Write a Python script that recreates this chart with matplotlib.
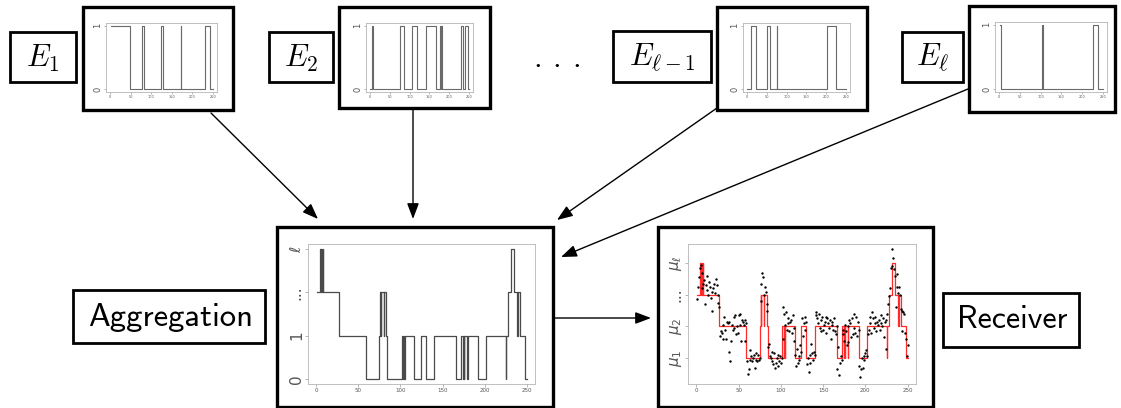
import os
import numpy as np
import matplotlib
import matplotlib.pyplot as plt
from matplotlib.patches import Rectangle
from matplotlib.font_manager import FontProperties

plt.rcParams['mathtext.fontset'] = 'cm'
sans = FontProperties(fname=os.path.join(matplotlib.get_data_path(), 'fonts', 'ttf', 'cmss10.ttf'))

# --- individual expert signals (change times, levels; steps-post) ---
e1_t = [1, 49, 76.5, 81.5, 124, 129, 172, 173.5, 230, 242, 250]
e1_v = [1, 0, 1, 0, 1, 0, 1, 0, 1, 0, 0]

e2_t = [1, 6, 7, 75, 86, 106, 117.5, 142.5, 167.5, 175.5, 178.5, 179, 181, 230, 234, 240.5, 248.5, 250]
e2_v = [0, 1, 0, 1, 0, 1, 0, 1, 0, 1, 0, 1, 0, 1, 0, 1, 0, 0]

elm1_t = [1, 9.7, 24, 51, 58.5, 76, 76.4, 201.5, 225, 250]
elm1_v = [0, 1, 0, 1, 0, 1, 0, 1, 0, 0]

el_t = [1, 5.5, 104, 104.6, 226, 239, 250]
el_v = [1, 0, 1, 0, 1, 0, 0]

# --- aggregated signal (0, 1, ..., l) ---
agg_t = [1, 4, 5, 5.5, 6, 6.5, 7, 7.5, 8, 27, 59, 75, 76, 76.5, 77, 80, 80.5, 83, 84.5,
         101.7, 103.5, 104, 104.5, 105, 116.4, 124.4, 130, 140, 166, 172,
         174.5, 175, 175.5, 176, 179.5, 180, 192, 202, 225.3, 226, 228, 231, 235,
         238.5, 239.5, 242.5, 248.5, 250]
agg_v = [2, 3, 2, 3, 2, 3, 2, 3, 2, 1, 0, 1, 2, 1, 2, 1, 2, 1, 0,
         1, 0, 1, 0, 1, 0, 1, 0, 1, 0, 1,
         0, 1, 0, 1, 0, 1, 0, 1, 0, 1, 2, 3, 2,
         1, 2, 1, 0, 0]

# --- observations at the receiver (mu_1 = 1, mu_2 = 2, ... = 3, mu_l = 4) ---
obs = [2.85, 3.25, 3.55, 3.85, 3.95, 3.70, 3.20, 3.35, 3.45, 2.70,
       3.30, 3.60, 3.15, 3.00, 3.40, 3.25, 2.90, 3.10, 2.50, 3.20,
       3.35, 3.05, 3.50, 3.30, 2.75, 3.00, 2.60,
       1.70, 1.85, 1.80, 1.60, 2.05, 2.30, 1.90, 1.60, 2.15, 2.10,
       2.15, 1.20, 0.90, 1.55, 2.05, 1.90, 1.95, 2.30, 2.35, 1.75,
       2.00, 1.80, 2.35, 2.05, 2.40, 1.55, 2.20, 2.15, 2.05, 1.55, 2.20, 2.10,
       0.90, 0.50, 0.65, 1.25, 0.95, 1.05, 0.90, 1.00, 1.10, 0.70, 0.95, 1.15, 0.90, 1.10, 0.95, 1.00,
       3.35, 2.80, 3.70, 3.55, 3.00, 3.25, 3.10, 2.70, 2.50,
       1.35, 1.45, 1.05, 1.00, 1.20, 0.90, 0.80, 1.15, 0.70, 0.85, 1.00, 1.10, 0.75, 0.90, 1.05, 0.85, 1.00,
       2.60, 1.60, 2.40, 2.05, 2.45, 1.90, 2.25, 2.10, 1.85, 2.15, 2.20, 1.80, 2.35, 1.95, 1.55,
       1.10, 0.75, 1.30, 0.85, 1.05, 0.95, 1.40, 1.20,
       2.25, 1.70, 2.10, 1.90, 2.30, 2.15,
       0.80, 1.00, 0.55, 1.10, 0.85, 1.45, 1.15, 0.95, 1.20, 1.10,
       2.45, 2.35, 2.25, 2.10, 2.40, 1.95, 2.20, 1.85, 2.30, 1.90,
       2.05, 2.15, 2.30, 1.80, 2.25, 2.10, 1.95, 2.20, 1.60, 2.05,
       2.15, 1.90, 2.25, 1.85, 1.75, 2.00,
       0.65, 1.35, 0.45, 0.85, 1.05, 0.95,
       1.90, 1.75, 1.55, 2.05, 1.85, 1.40, 2.00, 1.50, 2.20, 2.10,
       1.65, 2.25, 1.75, 1.95, 2.40, 1.80, 2.30, 1.70, 2.15, 1.90,
       0.75, 0.40, 0.65, 1.00, 0.70, 1.05, 0.95, 1.15, 1.25, 1.05,
       1.75, 1.90, 2.10, 2.30, 1.80, 2.45, 2.25, 1.95, 2.10, 2.30,
       1.85, 2.15, 2.05, 2.20, 1.90, 2.35, 2.10, 2.00, 2.25, 1.65,
       2.15, 1.30, 2.20,
       2.40, 2.70, 2.95, 3.20, 3.85,
       4.45, 3.90, 4.15, 3.80, 3.60,
       2.60, 3.65, 3.25, 3.05, 3.25, 3.00, 2.55,
       2.50, 1.85, 2.45, 2.40, 1.80, 1.60,
       1.05, 1.40]

W, H = 1121, 408
fig = plt.figure(figsize=(W / 100, H / 100), dpi=100)
canvas = fig.add_axes([0, 0, 1, 1])
canvas.set_xlim(0, W)
canvas.set_ylim(H, 0)
canvas.axis('off')


def frac(x0, y0, x1, y1):
    return [x0 / W, 1 - y1 / H, (x1 - x0) / W, (y1 - y0) / H]


def box(x0, y0, x1, y1, lw):
    canvas.add_patch(Rectangle((x0, y0), x1 - x0, y1 - y0, fill=False, lw=lw,
                               ec='black', joinstyle='miter'))


def r_axes(a, xlim, ylim, yticks, ylabels, ysize, xsize, tlen):
    a.set_facecolor('none')
    a.set_xlim(xlim)
    a.set_ylim(ylim)
    for s in a.spines.values():
        s.set_color('#b5b5b5')
        s.set_linewidth(0.6)
    a.set_xticks([0, 50, 100, 150, 200, 250])
    a.tick_params(direction='out', length=tlen, width=0.5, colors='#9a9a9a',
                  labelcolor='#555555', pad=1)
    a.tick_params(axis='x', labelsize=xsize)
    a.set_yticks(yticks)
    a.set_yticklabels(ylabels, rotation=90, va='center', fontsize=ysize,
                      math_fontfamily='dejavusans')


# expert boxes: label box, plot box, inner axes
experts = [
    (r'$E_1$', (10, 32, 76, 82), (83, 7, 233, 110), (106, 23, 217, 92), e1_t, e1_v),
    (r'$E_2$', (269, 32, 333, 82), (339, 7, 490, 108), (366, 23, 473, 92), e2_t, e2_v),
    (r'$E_{\ell-1}$', (613, 31, 711, 82), (717, 7, 867, 110), (743, 23, 850, 92), elm1_t, elm1_v),
    (r'$E_\ell$', (902, 32, 963, 82), (969, 6, 1115, 112), (995, 22, 1107, 92), el_t, el_v),
]
for name, lb, pb, ib, t, v in experts:
    box(*lb, lw=2.0)
    box(*pb, lw=2.4)
    canvas.text((lb[0] + lb[2]) / 2, (lb[1] + lb[3]) / 2 + 1, name, fontsize=22,
                ha='center', va='center')
    a = fig.add_axes(frac(*ib), zorder=3)
    a.plot(t, v, drawstyle='steps-post', color='#6a6a6a', lw=0.8)
    r_axes(a, (-10, 260), (-0.04, 1.04), [0, 1], ['0', '1'], 6, 2.5, 1.5)

canvas.text(557, 67, r'$.\:.\:.$', fontsize=22, ha='center', va='baseline')

# aggregation
box(277, 227, 553, 407, lw=2.4)
box(73, 290, 265, 343, lw=2.0)
canvas.text(171, 318, 'Aggregation', fontproperties=sans, fontsize=23.5,
            ha='center', va='center')
a = fig.add_axes(frac(308, 244, 535, 384), zorder=3)
a.plot(agg_t, agg_v, drawstyle='steps-post', color='#4a4a4a', lw=0.9)
r_axes(a, (-10, 260), (-0.12, 3.12), [0, 1, 2, 3], ['0', '1', '...', r'$\ell$'], 11, 4, 2)

# receiver
box(658, 227, 933, 407, lw=2.4)
box(943, 293, 1079, 347, lw=2.0)
canvas.text(1012, 320, 'Receiver', fontproperties=sans, fontsize=23,
            ha='center', va='center')
a = fig.add_axes(frac(688, 244, 916, 384), zorder=3)
a.plot(agg_t, np.array(agg_v) + 1, drawstyle='steps-post', color='#ff2a2a', lw=0.9)
a.scatter(np.arange(1, len(obs) + 1), obs, s=3, color='black', zorder=3, linewidths=0)
r_axes(a, (-10, 260), (0.18, 4.6), [1, 2, 3, 4],
       [r'$\mu_1$', r'$\mu_2$', '...', r'$\mu_\ell$'], 11, 4, 2)

# arrows
arrows = [((211, 113), (318, 219)), ((413, 110), (413, 219)), ((717, 108), (557, 220)),
          ((968, 89), (561, 257)), ((553, 318), (651, 318))]
for start, tip in arrows:
    canvas.annotate('', xy=tip, xytext=start,
                    arrowprops=dict(arrowstyle='-|>,head_length=0.95,head_width=0.36',
                                    mutation_scale=10, lw=1.0, color='black',
                                    shrinkA=0, shrinkB=0))

fig.savefig('out.png', dpi=100)
